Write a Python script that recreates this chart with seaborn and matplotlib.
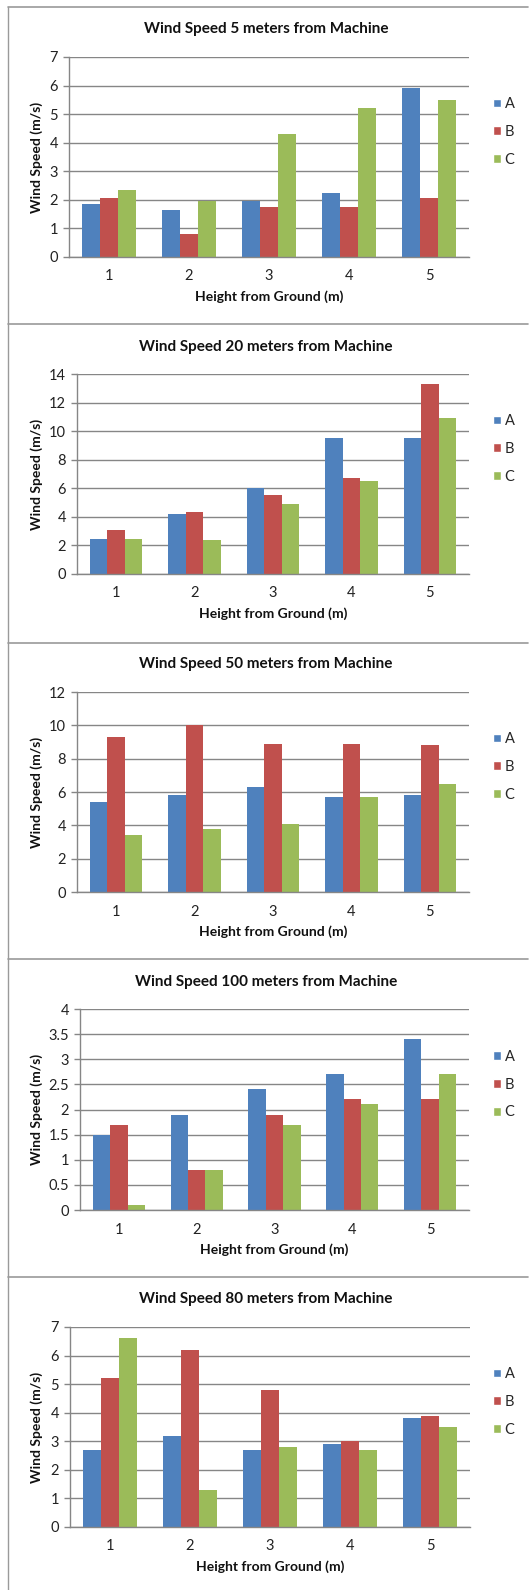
import numpy as np
import pandas as pd
import matplotlib
matplotlib.use("Agg")
import matplotlib.pyplot as plt
from matplotlib.lines import Line2D
from matplotlib.patches import Patch
import seaborn as sns

# data
heights = [1, 2, 3, 4, 5]
series = ["A", "B", "C"]
colors = ["#4F81BD", "#C0504D", "#9BBB59"]

titles = ["Wind Speed 5 meters from Machine",
          "Wind Speed 20 meters from Machine",
          "Wind Speed 50 meters from Machine",
          "Wind Speed 100 meters from Machine",
          "Wind Speed 80 meters from Machine"]

speed_5_A = [1.85, 1.65, 1.95, 2.25, 5.9]
speed_5_B = [2.05, 0.82, 1.75, 1.75, 2.05]
speed_5_C = [2.35, 1.95, 4.3, 5.2, 5.5]

speed_20_A = [2.45, 4.2, 6.0, 9.5, 9.5]
speed_20_B = [3.1, 4.35, 5.5, 6.7, 13.3]
speed_20_C = [2.45, 2.35, 4.9, 6.5, 10.9]

speed_50_A = [5.4, 5.8, 6.3, 5.7, 5.8]
speed_50_B = [9.3, 10.0, 8.9, 8.9, 8.8]
speed_50_C = [3.4, 3.8, 4.1, 5.7, 6.5]

speed_100_A = [1.5, 1.9, 2.4, 2.7, 3.4]
speed_100_B = [1.7, 0.8, 1.9, 2.2, 2.2]
speed_100_C = [0.1, 0.8, 1.7, 2.1, 2.7]

speed_80_A = [2.7, 3.2, 2.7, 2.9, 3.8]
speed_80_B = [5.2, 6.2, 4.8, 3.0, 3.9]
speed_80_C = [6.6, 1.3, 2.8, 2.7, 3.5]

panel_data = [(speed_5_A, speed_5_B, speed_5_C),
              (speed_20_A, speed_20_B, speed_20_C),
              (speed_50_A, speed_50_B, speed_50_C),
              (speed_100_A, speed_100_B, speed_100_C),
              (speed_80_A, speed_80_B, speed_80_C)]

y_max = [7, 14, 12, 4, 7]
y_step = [1, 2, 2, 0.5, 1]

# layout in pixels (left, right, top, bottom of plot area) and title y
W, H = 532, 1590
boxes = [(69, 469, 57, 257), (77, 469, 374, 574), (77, 469, 692, 892),
         (80, 469, 1009, 1210), (70, 470, 1327, 1527)]
title_y = [29, 347, 664, 982, 1299]
panel_tops = [7, 324, 643, 959, 1277]

sns.set_style("white")
plt.rcParams['font.family'] = ['Lato', 'DejaVu Sans']
grey = "#868686"

fig = plt.figure(figsize=(W / 100, H / 100), dpi=100)
fig.patch.set_facecolor("white")

# panel frame lines
fig.add_artist(Line2D([8 / W, 8 / W], [1 - 7 / H, 0], transform=fig.transFigure,
                      color="#9a9a9a", lw=1.0))
for t in panel_tops:
    fig.add_artist(Line2D([8 / W, 528 / W], [1 - t / H, 1 - t / H],
                          transform=fig.transFigure, color="#9a9a9a", lw=1.2))

for i in range(5):
    l, r, t, b = boxes[i]
    ax = fig.add_axes([l / W, 1 - b / H, (r - l) / W, (b - t) / H])
    a, bb, c = panel_data[i]
    df = pd.DataFrame({
        "height": heights * 3,
        "speed": a + bb + c,
        "series": ["A"] * 5 + ["B"] * 5 + ["C"] * 5,
    })
    sns.barplot(data=df, x="height", y="speed", hue="series", palette=colors,
                width=0.67, saturation=1, ax=ax, legend=False, linewidth=0)
    ax.set_xlim(-0.5, 4.5)
    ax.set_ylim(0, y_max[i])
    ticks = np.arange(0, y_max[i] + 0.01, y_step[i])
    ax.set_yticks(ticks)
    ax.set_yticklabels([f"{v:g}" for v in ticks], fontsize=10.5, color="#222222")
    ax.set_xticks(range(5))
    ax.set_xticklabels([str(h) for h in heights], fontsize=10.5, color="#222222")
    ax.set_xticks(np.arange(-0.5, 5, 1), minor=True)
    ax.tick_params(axis="x", which="major", length=0, pad=9)
    ax.tick_params(axis="x", which="minor", length=4, color=grey, width=1)
    ax.tick_params(axis="y", which="major", length=4, color=grey, width=1, pad=4,
                   left=True)
    ax.set_xlabel("")
    ax.set_ylabel("")
    ax.grid(axis="y", color=grey, lw=1.0)
    ax.set_axisbelow(True)
    for s in ["top", "right"]:
        ax.spines[s].set_visible(False)
    for s in ["left", "bottom"]:
        ax.spines[s].set_color(grey)
        ax.spines[s].set_linewidth(1.0)

    handles = [Patch(facecolor=col, label=s) for col, s in zip(colors, series)]
    leg_y = (b - (t + b) / 2 + 25) / (b - t)
    ax.legend(handles=handles, loc="center left",
              bbox_to_anchor=((493 - l) / (r - l), leg_y),
              frameon=False, fontsize=10.5, handlelength=0.55, handleheight=0.55,
              handletextpad=0.25, labelspacing=0.95, borderpad=0, borderaxespad=0)

    fig.text(0.5, 1 - title_y[i] / H, titles[i], ha="center", va="center",
             fontsize=11, fontweight="bold", color="#111111")
    fig.text(37 / W, 1 - (t + b) / 2 / H, "Wind Speed (m/s)", rotation=90,
             ha="center", va="center", fontsize=10, fontweight="bold",
             color="#111111")
    fig.text((l + r) / 2 / W, 1 - (b + 40) / H, "Height from Ground (m)",
             ha="center", va="center", fontsize=10, fontweight="bold",
             color="#111111")

fig.savefig("out.png", dpi=100, facecolor="white")
